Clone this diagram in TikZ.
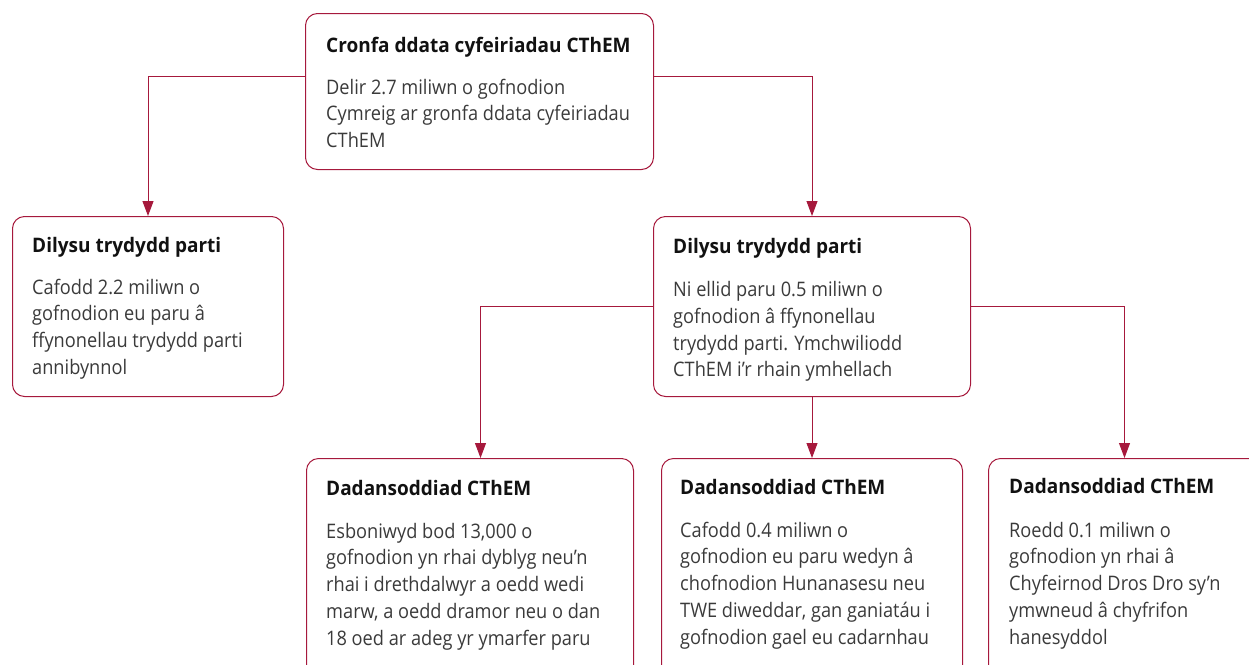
\documentclass[tikz,border=0pt]{standalone}
\usepackage{fontspec}
\setmainfont{Open Sans}[FakeStretch=0.91,BoldFeatures={FakeStretch=0.95}]
\usetikzlibrary{arrows.meta}
\definecolor{crim}{HTML}{A6193C}
\definecolor{bodytext}{HTML}{3A3A3A}
\definecolor{titletext}{HTML}{111111}
\newcommand{\lines}[1]{\parbox[t]{330pt}{\raggedright #1}}
\begin{document}
\begin{tikzpicture}[x=1pt,y=-1pt,
  box/.style={draw=crim, line width=1pt, rounded corners=12pt, inner sep=0pt, anchor=north west},
  ttl/.style={anchor=base west, inner sep=0pt, font=\fontsize{20}{26.8}\selectfont\bfseries, text=titletext},
  bdy/.style={anchor=base west, inner sep=0pt, font=\fontsize{20}{26.8}\selectfont, text=bodytext},
  conn/.style={draw=crim, line width=1pt},
  arr/.style={conn, -{Triangle[width=11pt,length=15pt]}}]
\useasboundingbox (0,0) rectangle (1249,664);
\clip (0,0) rectangle (1249,664);
% boxes
\node[box, minimum width=348pt, minimum height=156pt] (top) at (305,13) {};
\node[box, minimum width=271pt, minimum height=180pt] (lb) at (12,216) {};
\node[box, minimum width=317pt, minimum height=180pt] (mb) at (653,216) {};
\node[box, minimum width=327pt, minimum height=260pt] (ba) at (306,458) {};
\node[box, minimum width=301pt, minimum height=260pt] (bb) at (661,458) {};
\node[box, minimum width=272pt, minimum height=260pt] (bc) at (988,458) {};
% texts
\node[ttl] (topt) at (326,52) {Cronfa ddata cyfeiriadau CThEM};
\node[bdy] (topb) at (326,94) {\lines{Delir 2.7 miliwn o gofnodion\\Cymreig ar gronfa ddata cyfeiriadau\\CThEM}};
\node[ttl] (lbt) at (32,252) {Dilysu trydydd parti};
\node[bdy] (lbb) at (32,294) {\lines{Cafodd 2.2 miliwn o\\gofnodion eu paru â\\ffynonellau trydydd parti\\annibynnol}};
\node[ttl] (mbt) at (673,253) {Dilysu trydydd parti};
\node[bdy] (mbb) at (673,296.5) {\lines{Ni ellid paru 0.5 miliwn o\\gofnodion â ffynonellau\\trydydd parti. Ymchwiliodd\\CThEM i’r rhain ymhellach}};
\node[ttl] (bat) at (326,495) {Dadansoddiad CThEM};
\node[bdy] (bab) at (326,538) {\lines{Esboniwyd bod 13,000 o\\gofnodion yn rhai dyblyg neu’n\\rhai i drethdalwyr a oedd wedi\\marw, a oedd dramor neu o dan\\18 oed ar adeg yr ymarfer paru}};
\node[ttl] (bbt) at (680,494) {Dadansoddiad CThEM};
\node[bdy] (bbb) at (680,537) {\lines{Cafodd 0.4 miliwn o\\gofnodion eu paru wedyn â\\chofnodion Hunanasesu neu\\TWE diweddar, gan ganiatáu i\\gofnodion gael eu cadarnhau}};
\node[ttl] (bct) at (1009,493) {Dadansoddiad CThEM};
\node[bdy] (bcb) at (1009,537) {\lines{Roedd 0.1 miliwn o\\gofnodion yn rhai â\\Chyfeirnod Dros Dro sy’n\\ymwneud â chyfrifon\\hanesyddol}};
% connectors
\draw[arr] ([yshift=15pt]top.west) -| (lb.north);
\draw[arr] ([yshift=15pt]top.east) -| (mb.north);
\draw[arr] (mb.west) -| ([xshift=10.5pt]ba.north);
\draw[arr] (mb.south) -- (bb.north);
\draw[arr] (mb.east) -| (bc.north);
\end{tikzpicture}
\end{document}
